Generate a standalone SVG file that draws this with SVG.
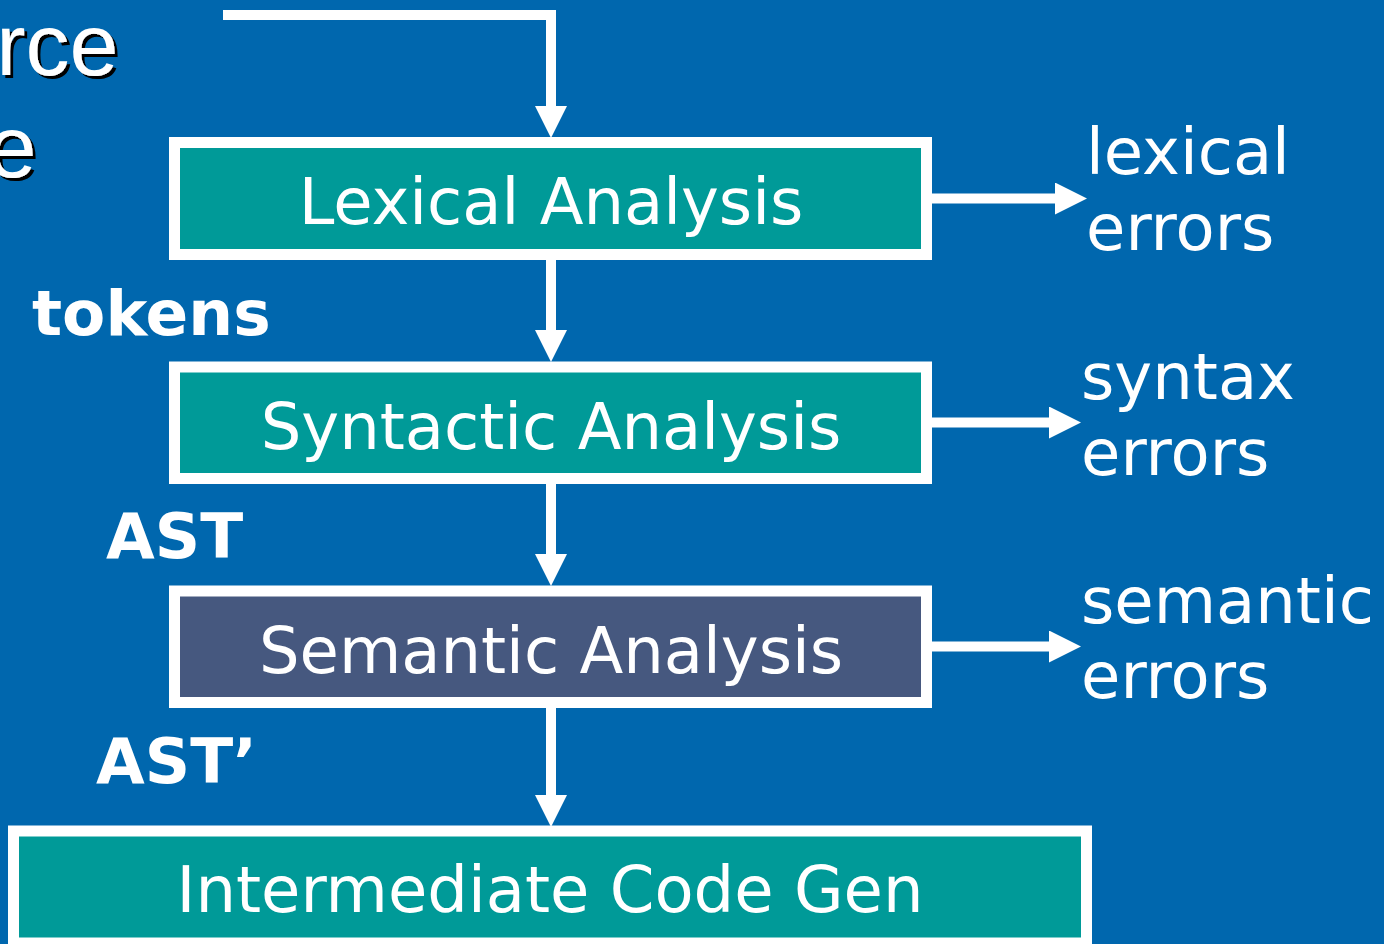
<svg xmlns="http://www.w3.org/2000/svg" width="1384" height="944" viewBox="0 0 1384 944">
  <defs>
    <style>
      .bg { fill: #0067AE; }
      .box { stroke: #FFFFFF; stroke-width: 11; }
      .teal { fill: #009A98; }
      .slate { fill: #46587F; }
      .label { font-family: "DejaVu Sans", Verdana, sans-serif; font-size: 64px; fill: #FFFFFF; }
      .center { text-anchor: middle; }
      .tag { font-family: "DejaVu Sans", Verdana, sans-serif; font-weight: bold; font-size: 63px; fill: #FFFFFF; }
      .title { font-family: "Liberation Sans", Arial, sans-serif; font-size: 88px; fill: #FFFFFF; text-anchor: end; filter: url(#shadow); }
      .wire { fill: none; stroke: #FFFFFF; stroke-width: 10; stroke-linejoin: miter; }
    </style>
    <filter id="shadow" x="-20%" y="-20%" width="140%" height="140%">
      <feDropShadow dx="3" dy="3" stdDeviation="0.6" flood-color="#000000" flood-opacity="1"/>
    </filter>
    <marker id="head" viewBox="0 -16 32 32" refX="0" refY="0" markerWidth="32" markerHeight="32" markerUnits="userSpaceOnUse" orient="auto">
      <path d="M0,-16 L32,0 L0,16 Z" fill="#FFFFFF"/>
    </marker>
  </defs>

  <rect class="bg" x="0" y="0" width="1384" height="944"/>

  <!-- heading fragment with drop shadow -->
  <g id="heading">
    <text class="title" x="118.5" y="75">rce</text>
    <text class="title" x="36.5" y="177">e</text>
  </g>

  <!-- connectors -->
  <g id="connectors">
    <path class="wire" d="M223,15 H551 V106" marker-end="url(#head)"/>
    <path class="wire" d="M551,260 V330" marker-end="url(#head)"/>
    <path class="wire" d="M551,484 V554" marker-end="url(#head)"/>
    <path class="wire" d="M551,708 V795" marker-end="url(#head)"/>
    <path class="wire" d="M932,198.5 H1055" marker-end="url(#head)"/>
    <path class="wire" d="M932,422.5 H1049" marker-end="url(#head)"/>
    <path class="wire" d="M932,646.5 H1049" marker-end="url(#head)"/>
  </g>

  <!-- pipeline stages -->
  <g id="lexical">
    <rect class="box teal" x="174.5" y="142.5" width="752" height="112"/>
    <text class="label center" x="551" y="224">Lexical Analysis</text>
  </g>
  <g id="syntactic">
    <rect class="box teal" x="174.5" y="367" width="752" height="111.5"/>
    <text class="label center" x="551" y="449">Syntactic Analysis</text>
  </g>
  <g id="semantic">
    <rect class="box slate" x="174.5" y="591" width="752" height="111.5"/>
    <text class="label center" x="551" y="673">Semantic Analysis</text>
  </g>
  <g id="intermediate">
    <rect class="box teal" x="13.5" y="831" width="1073" height="112"/>
    <text class="label center" x="550" y="912">Intermediate Code Gen</text>
  </g>

  <!-- error outputs -->
  <g id="lexical-errors">
    <text class="label" x="1086" y="174">lexical</text>
    <text class="label" x="1086" y="250">errors</text>
  </g>
  <g id="syntax-errors">
    <text class="label" x="1081" y="399">syntax</text>
    <text class="label" x="1081" y="475">errors</text>
  </g>
  <g id="semantic-errors">
    <text class="label" x="1081" y="623">semantic</text>
    <text class="label" x="1081" y="698">errors</text>
  </g>

  <!-- intermediate representations -->
  <g id="tokens">
    <text class="tag" x="32" y="335">tokens</text>
  </g>
  <g id="ast">
    <text class="tag" x="106" y="558">AST</text>
  </g>
  <g id="ast-prime">
    <text class="tag" x="96" y="783">AST’</text>
  </g>
</svg>
